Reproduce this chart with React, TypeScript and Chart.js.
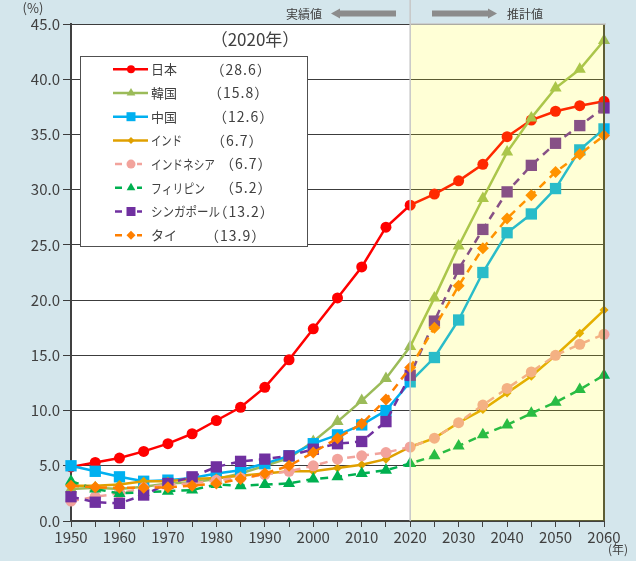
import React, { useEffect, useRef } from 'react';
import { Chart, registerables } from 'chart.js';

Chart.register(...registerables);

const years = [1950, 1955, 1960, 1965, 1970, 1975, 1980, 1985, 1990, 1995, 2000, 2005, 2010, 2015, 2020, 2025, 2030, 2035, 2040, 2045, 2050, 2055, 2060];
const japan = [4.9, 5.3, 5.7, 6.3, 7.0, 7.9, 9.1, 10.3, 12.1, 14.6, 17.4, 20.2, 23.0, 26.6, 28.6, 29.6, 30.8, 32.3, 34.8, 36.3, 37.1, 37.6, 38.0];
const korea = [2.9, 3.0, 2.9, 3.1, 3.4, 3.5, 3.8, 4.3, 5.0, 5.7, 7.2, 9.0, 10.9, 12.9, 15.8, 20.2, 24.9, 29.2, 33.4, 36.5, 39.2, 40.9, 43.5];
const china = [5.0, 4.5, 4.0, 3.6, 3.7, 3.9, 4.3, 4.6, 5.2, 5.9, 7.0, 7.8, 8.7, 10.0, 12.6, 14.8, 18.2, 22.5, 26.1, 27.8, 30.1, 33.6, 35.5];
const india = [3.2, 3.2, 3.3, 3.6, 3.6, 3.8, 3.9, 4.1, 4.3, 4.5, 4.5, 4.8, 5.1, 5.6, 6.7, 7.5, 8.9, 10.1, 11.6, 13.1, 15.0, 17.0, 19.1];
const indonesia = [1.8, 2.2, 2.5, 3.0, 3.3, 3.4, 3.7, 3.9, 4.2, 4.5, 5.0, 5.6, 5.9, 6.2, 6.7, 7.5, 8.9, 10.5, 12.0, 13.5, 15.0, 16.0, 16.9];
const philippines = [3.6, 2.9, 2.5, 2.6, 2.7, 2.8, 3.3, 3.2, 3.3, 3.4, 3.8, 4.0, 4.3, 4.6, 5.2, 5.9, 6.8, 7.8, 8.7, 9.75, 10.75, 11.9, 13.2];
const singapore = [2.2, 1.7, 1.6, 2.35, 3.4, 4.0, 4.9, 5.4, 5.6, 5.9, 6.5, 7.0, 7.2, 9.0, 13.2, 18.1, 22.8, 26.4, 29.8, 32.2, 34.2, 35.8, 37.4];
const thailand = [3.2, 3.05, 3.0, 3.0, 3.05, 3.2, 3.4, 3.8, 4.3, 5.0, 6.2, 7.5, 8.8, 11.0, 13.9, 17.5, 21.3, 24.7, 27.4, 29.5, 31.6, 33.2, 34.9];

const seriesNames = ['日本', '韓国', '中国', 'インド', 'インドネシア', 'フィリピン', 'シンガポール', 'タイ'];
const values2020 = ['（28.6）', '（15.8）', '（12.6）', '（6.7）', '（6.7）', '（5.2）', '（13.2）', '（13.9）'];
const seriesValues = [japan, korea, china, india, indonesia, philippines, singapore, thailand];

const xTickStep = 5;
const yTickStep = 5;
const projectionStart = 2020;

const styles = [
  { color: '#FF0000', shape: 'circle', r: 5.5, dashed: false, lr: 4 },
  { color: '#9BBB59', shape: 'triangle', r: 7, dashed: false, lr: 5 },
  { color: '#00B0F0', shape: 'rect', r: 8, dashed: false, lr: 6 },
  { color: '#E0A000', shape: 'rectRot', r: 4.5, dashed: false, lr: 3.5 },
  { color: '#F2A39C', shape: 'circle', r: 5.5, dashed: true, lr: 4.5 },
  { color: '#00B050', shape: 'triangle', r: 7, dashed: true, lr: 5 },
  { color: '#7030A0', shape: 'rect', r: 8, dashed: true, lr: 6 },
  { color: '#FF7F00', shape: 'rectRot', r: 6, dashed: true, lr: 4.5 },
];

const TEXT = '#404040';
const FONT = '"Noto Sans CJK JP", "Noto Sans", sans-serif';

function drawMarker(ctx: CanvasRenderingContext2D, shape: string, x: number, y: number, r: number, color: string) {
  ctx.save();
  ctx.fillStyle = color;
  ctx.beginPath();
  if (shape === 'circle') {
    ctx.arc(x, y, r, 0, Math.PI * 2);
  } else if (shape === 'rect') {
    ctx.rect(x - r * 0.75, y - r * 0.75, r * 1.5, r * 1.5);
  } else if (shape === 'rectRot') {
    ctx.moveTo(x - r, y);
    ctx.lineTo(x, y - r);
    ctx.lineTo(x + r, y);
    ctx.lineTo(x, y + r);
    ctx.closePath();
  } else if (shape === 'triangle') {
    ctx.moveTo(x, y - r);
    ctx.lineTo(x + r * 0.87, y + r * 0.5);
    ctx.lineTo(x - r * 0.87, y + r * 0.5);
    ctx.closePath();
  }
  ctx.fill();
  ctx.restore();
}

const decorPlugin = {
  id: 'decor',
  beforeDraw(chart: any) {
    const { ctx, chartArea } = chart;
    ctx.save();
    ctx.fillStyle = '#D4E6EC';
    ctx.fillRect(0, 0, chart.width, chart.height);
    ctx.fillStyle = '#FFFFFF';
    ctx.fillRect(chartArea.left, chartArea.top, chartArea.right - chartArea.left, chartArea.bottom - chartArea.top);
    ctx.restore();
  },
  afterDatasetsDraw(chart: any) {
    const { ctx, chartArea, scales } = chart;
    const x0 = scales.x.getPixelForValue(projectionStart);
    ctx.save();
    ctx.strokeStyle = '#404040';
    ctx.lineWidth = 2;
    ctx.beginPath();
    ctx.moveTo(chartArea.right, chartArea.top);
    ctx.lineTo(chartArea.right, chartArea.bottom);
    ctx.stroke();
    ctx.fillStyle = 'rgba(255,255,0,0.16)';
    ctx.fillRect(x0, chartArea.top, chartArea.right + 1 - x0, chartArea.bottom - chartArea.top);
    ctx.strokeStyle = '#C8C8C8';
    ctx.lineWidth = 1.5;
    ctx.beginPath();
    ctx.moveTo(x0, 0);
    ctx.lineTo(x0, chartArea.bottom);
    ctx.moveTo(x0, chartArea.top);
    ctx.lineTo(chartArea.right + 2, chartArea.top);
    ctx.stroke();
    ctx.restore();
  },
  afterDraw(chart: any) {
    const { ctx } = chart;
    ctx.save();
    ctx.fillStyle = TEXT;
    ctx.textBaseline = 'middle';
    ctx.font = `13px ${FONT}`;
    ctx.textAlign = 'center';
    ctx.fillText('(%)', 33, 8);
    ctx.font = `12px ${FONT}`;
    ctx.fillText('(年)', 618, 549);
    ctx.font = `17px ${FONT}`;
    ctx.fillText('（2020年）', 255, 40);

    ctx.font = `12px ${FONT}`;
    ctx.textAlign = 'right';
    ctx.fillText('実績値', 322, 14);
    ctx.textAlign = 'left';
    ctx.fillText('推計値', 507, 14);
    ctx.fillStyle = '#8C8C8C';
    ctx.fillRect(339, 10.5, 57, 6);
    ctx.beginPath();
    ctx.moveTo(331, 13.5);
    ctx.lineTo(340, 8.5);
    ctx.lineTo(340, 18.5);
    ctx.closePath();
    ctx.fill();
    ctx.fillRect(432, 10.5, 57, 6);
    ctx.beginPath();
    ctx.moveTo(497, 13.5);
    ctx.lineTo(488, 8.5);
    ctx.lineTo(488, 18.5);
    ctx.closePath();
    ctx.fill();

    ctx.fillStyle = '#FFFFFF';
    ctx.fillRect(80, 56, 227, 190);
    ctx.strokeStyle = '#505050';
    ctx.lineWidth = 1;
    ctx.strokeRect(80.5, 56.5, 227, 190);

    const valueX = [210.5, 208, 213, 211, 220, 220, 213.5, 205];
    const nameMax = [26, 26, 26, 31, 64, 54, 69, 27];
    seriesNames.forEach((name, i) => {
      const st = styles[i];
      const y = 69.3 + i * 23.7;
      ctx.strokeStyle = st.color;
      ctx.lineWidth = 2.5;
      ctx.beginPath();
      if (st.dashed) {
        ctx.moveTo(115, y);
        ctx.lineTo(122, y);
        ctx.moveTo(137, y);
        ctx.lineTo(142, y);
      } else {
        ctx.moveTo(113, y);
        ctx.lineTo(148, y);
      }
      ctx.stroke();
      drawMarker(ctx, st.shape, 131, y, st.lr, st.color);
      ctx.fillStyle = TEXT;
      ctx.textAlign = 'left';
      ctx.font = `13px ${FONT}`;
      (ctx as any).letterSpacing = '0px';
      ctx.fillText(name, 151, y, nameMax[i]);
      ctx.font = `14px ${FONT}`;
      (ctx as any).letterSpacing = '1px';
      ctx.fillText(values2020[i], valueX[i], y);
      (ctx as any).letterSpacing = '0px';
    });
    ctx.restore();
  },
};

export default function App() {
  const ref = useRef<HTMLCanvasElement | null>(null);
  useEffect(() => {
    document.body.style.margin = '0';
    const canvas = ref.current!;
    const datasets = seriesNames.map((name, i) => {
      const st = styles[i];
      return {
        label: name,
        data: years.map((yr, j) => ({ x: yr, y: seriesValues[i][j] })),
        borderColor: st.color,
        backgroundColor: st.color,
        borderWidth: 2.5,
        borderDash: st.dashed ? [8, 6] : [],
        pointStyle: st.shape,
        pointRadius: st.r,
        pointBackgroundColor: st.color,
        pointBorderColor: st.color,
        pointBorderWidth: 0,
        tension: 0,
        clip: false,
        order: seriesNames.length - i,
      };
    });
    const chart = new Chart(canvas, {
      type: 'line',
      data: { datasets } as any,
      options: {
        animation: false,
        responsive: false,
        devicePixelRatio: 1,
        layout: { padding: { left: 0, top: 24, right: 32, bottom: 0 } },
        plugins: { legend: { display: false }, tooltip: { enabled: false } },
        scales: {
          x: {
            type: 'linear',
            min: years[0],
            max: years[years.length - 1],
            afterFit: (s: any) => { s.height = 40; },
            afterBuildTicks: (s: any) => {
              const t = [];
              for (let v = years[0]; v <= years[years.length - 1]; v += xTickStep) t.push({ value: v });
              s.ticks = t;
            },
            ticks: {
              autoSkip: false,
              maxRotation: 0,
              padding: 1,
              color: TEXT,
              font: { family: FONT, size: 15 },
              callback: (v: any) => (Number(v) % 10 === 0 ? String(v) : ''),
            },
            grid: { drawOnChartArea: false, drawTicks: true, tickLength: 6, color: '#404040', lineWidth: 1 },
            border: { color: '#404040', width: 2 },
          },
          y: {
            type: 'linear',
            min: 0,
            max: 45,
            afterFit: (s: any) => { s.width = 71; },
            ticks: {
              stepSize: yTickStep,
              padding: 3,
              color: TEXT,
              font: { family: FONT, size: 15 },
              callback: (v: any) => Number(v).toFixed(1),
            },
            grid: { color: '#3C3C3C', lineWidth: 1, tickLength: 8, drawTicks: true },
            border: { color: '#404040', width: 2 },
          },
        },
      },
      plugins: [decorPlugin],
    } as any);
    return () => chart.destroy();
  }, []);
  return <canvas ref={ref} width={636} height={561} style={{ display: 'block', width: 636, height: 561 }} />;
}
